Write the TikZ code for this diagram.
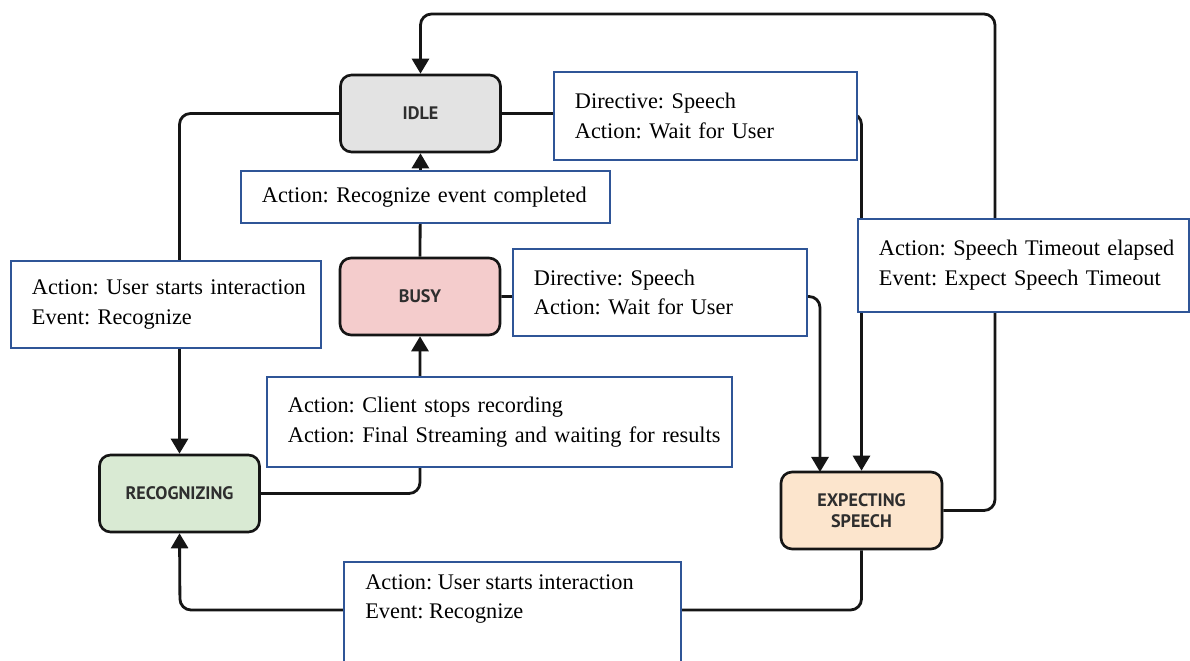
\documentclass[tikz,border=0pt]{standalone}
\usepackage{fontspec}
\setmainfont{Liberation Serif}
\newfontfamily\statefam{PT Sans}
\usetikzlibrary{arrows.meta}
\definecolor{idlefill}{HTML}{E3E3E3}
\definecolor{busyfill}{HTML}{F4CCCC}
\definecolor{recfill}{HTML}{D9EAD3}
\definecolor{expfill}{HTML}{FCE5CD}
\definecolor{lblue}{HTML}{2F5597}
\definecolor{txtgray}{HTML}{2E2E2E}
\definecolor{linegray}{HTML}{151515}
\newcommand{\lblfont}{\fontsize{12.7}{17}\selectfont\frenchspacing\hyphenpenalty=10000 }
\begin{document}
\begin{tikzpicture}[x=0.02cm,y=-0.02cm,
  state/.style={draw=linegray, line width=1.5pt, rounded corners=0.22cm, minimum width=3.2cm, minimum height=1.54cm, font=\statefam\bfseries\fontsize{10.3}{13}\selectfont, text=txtgray, align=center, inner sep=0pt},
  conn/.style={draw=linegray, line width=1.6pt, rounded corners=0.22cm},
  arr/.style={conn, -{Triangle[width=0.34cm,length=0.3cm]}},
  lbl/.style={draw=lblue, line width=1.1pt, fill=white, font=\lblfont, align=left, inner xsep=0.42cm, inner ysep=0pt, anchor=north west},
  lbltext/.style={font=\lblfont, align=left, inner sep=0pt, anchor=north west}
]
\useasboundingbox (0,0) rectangle (1190,661);
\clip (0,0) rectangle (1190,661);
\fill[white] (0,0) rectangle (1190,661);

% states
\node[state, fill=idlefill] (idle) at (420.5,113.5) {IDLE};
\node[state, fill=busyfill] (busy) at (420,296.5) {BUSY};
\node[state, fill=recfill] (rec) at (179.5,493.5) {RECOGNIZING};
\node[state, fill=expfill, minimum width=3.22cm] (exp) at (861.5,510.5) {EXPECTING\\[-1pt]SPEECH};

\coordinate (top) at (995,14);
\coordinate (e2) at (820,472);
\coordinate (bot) at (180,610);

% connectors
\draw[arr] (exp.east) -| (top) -| (idle.north);
\draw[arr] (idle.west) -| (rec.north);
\draw[arr] (idle.east) -| (exp.north);
\draw[arr] (busy.north) -- (idle.south);
\draw[arr] (busy.east) -| (e2);
\draw[arr] (rec.east) -| (busy.south);
\draw[arr] (exp.south) |- (bot) -- (rec.south);

% labels
\node[lbl, minimum width=6.06cm, minimum height=1.76cm, text width=5.22cm] (l1) at (553,71) {\mbox{Directive: Speech}\\\mbox{Action: Wait for User}};
\node[lbl, minimum width=7.38cm, minimum height=1.04cm, text width=6.54cm] (l2) at (240,170) {\mbox{Action: Recognize event completed}};
\node[lbl, minimum width=5.88cm, minimum height=1.74cm, text width=5.04cm] (l3) at (512,248) {\mbox{Directive: Speech}\\\mbox{Action: Wait for User}};
\node[lbl, minimum width=6.62cm, minimum height=1.86cm, text width=5.78cm] (l4) at (857,218) {\mbox{Action: Speech Timeout elapsed}\\\mbox{Event: Expect Speech Timeout}};
\node[lbl, minimum width=6.2cm, minimum height=1.74cm, text width=5.36cm] (l5) at (10,260) {\mbox{Action: User starts interaction}\\\mbox{Event: Recognize}};
\node[lbl, minimum width=9.3cm, minimum height=1.8cm, text width=8.46cm] (l6) at (266,376) {\mbox{Action: Client stops recording}\\\mbox{Action: Final Streaming and waiting for results}};
\node[lbl, minimum width=6.74cm, minimum height=2.8cm, text width=5.9cm] (l7) at (343,561) {};
\node[lbltext] (l7t) at (365,574) {Action: User starts interaction\\Event: Recognize};
\end{tikzpicture}
\end{document}
